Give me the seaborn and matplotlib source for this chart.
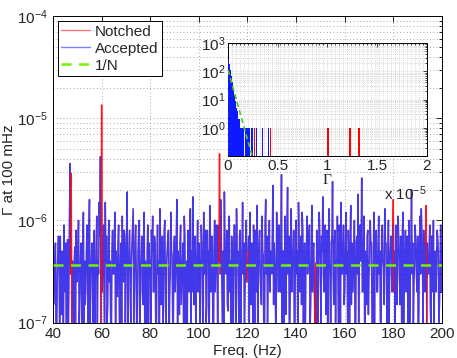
import numpy as np
import pandas as pd
import matplotlib
matplotlib.use("Agg")
import matplotlib.pyplot as plt
from matplotlib.lines import Line2D
from matplotlib.ticker import LogLocator, MultipleLocator, FuncFormatter, NullFormatter
import seaborn as sns

# ---------------- data ----------------
freq_start, freq_step = 40.0, 0.5   # Hz
# Gamma at 100 mHz, in units of 1e-7, at 40.0, 40.5, ... 200.0 Hz
gamma_1e7 = [
    8, 2.5, 6, 0.6, 5, 3, 7, 1.2, 4, 9, 2, 0.3, 6.5, 2, 36, 29, 4, 1, 5.5, 8,            # 40
    3, 10, 1.5, 6, 0.8, 12, 4, 2.2, 9, 0.5, 16, 3, 6, 1, 8, 2.5, 11, 4, 15, 42,           # 50
    135, 5, 2, 15, 7, 1.5, 10, 4, 0.7, 8, 3, 12, 5, 1.8, 9, 0.4, 6, 11, 2.5, 7,           # 60
    4, 19, 3, 8, 1, 6, 13, 2, 9, 0.5, 5, 10, 3.5, 7, 1.5, 12, 4, 0.8, 9, 6,               # 70
    3, 8, 11, 2, 6, 0.6, 9, 4, 13, 1.5, 7, 3, 10, 0.9, 5, 8, 2, 12, 4.5, 1,               # 80
    7, 3, 16, 5, 1.2, 9, 2.5, 6, 11, 0.4, 4, 8, 2, 13, 5, 17, 1.5, 7, 3, 10,              # 90
    6, 0.7, 9, 3, 12, 4, 1, 8, 5, 14, 2, 7, 0.5, 10, 3.5, 6, 9, 45, 16, 2,                # 100
    5, 19, 3, 8, 1.3, 11, 4, 7, 0.6, 9, 2.5, 13, 5, 1, 8, 3, 15, 6, 2, 10,                # 110
    3.5, 7, 12, 1.5, 5, 9, 0.8, 6, 14, 3, 8, 2, 11, 4.5, 0.5, 16, 7, 2.5, 10, 5,          # 120
    3, 22, 6, 1.5, 12, 4, 9, 2, 28, 5, 0.9, 11, 3, 21, 7, 1.2, 13, 4, 8, 0.6,             # 130
    10, 5, 15, 2, 7, 12, 0.8, 6, 3, 11, 4.5, 9, 1.5, 14, 5, 2.5, 3.8, 8, 1, 12,           # 140
    4, 7, 17, 2, 9, 5, 0.7, 13, 3, 6, 24, 1.5, 8, 4, 11, 0.5, 7, 15, 3, 9,                # 150
    2, 12, 5, 8, 1, 14, 6, 3, 10, 0.8, 7, 18, 4, 9, 26, 2, 11, 5, 1.5, 8,                 # 160
    3, 10, 6, 0.7, 12, 4, 8, 2, 11, 5, 1.2, 9, 3.5, 13, 6, 0.9, 10, 4, 7, 2,              # 170
    16, 5, 9, 1.5, 11, 4, 7, 0.6, 12, 3, 8, 5, 1, 10, 4, 20, 6, 2.5, 9, 3,                # 180
    7, 1.2, 11, 13, 4, 8, 2, 14, 6, 3, 9, 0.8, 7, 10, 4, 2, 8, 5, 1.5, 9,                 # 190
    6,                                                                                    # 200
]
# values in between, at 40.25, 40.75, ... 199.75 Hz (units of 1e-7)
gamma_mid_1e7 = [
    1.5, 4, 0.5, 3, 7, 0.8, 2, 5, 0.4, 3, 6, 1, 0.6, 9, 3, 0.7, 2, 4, 0.5, 2.5,          # 40
    6, 0.9, 4, 2, 7, 0.6, 1.5, 5, 3, 8, 0.5, 4, 2, 6, 0.7, 5, 1, 3, 7, 0.6,              # 50
    2, 9, 0.5, 4, 1, 6, 2.5, 0.8, 5, 3, 7, 0.4, 2, 6, 1.5, 4, 0.6, 3, 8, 1,              # 60
    7, 0.5, 5, 2, 4, 9, 0.7, 6, 3, 1.5, 8, 0.6, 4, 2, 6, 0.8, 3, 5, 1, 4,                # 70
    0.6, 5, 2, 7, 1, 4, 3, 0.5, 6, 2.5, 0.9, 8, 1.5, 4, 7, 0.5, 3, 5, 1, 6,              # 80
    2, 8, 0.7, 3, 6, 1.5, 4, 0.5, 7, 3, 1, 5, 9, 0.6, 2, 4, 6, 0.8, 5, 2,                # 90
    4, 2.5, 6, 0.6, 3, 8, 1.5, 4, 0.5, 7, 3, 1, 5, 2, 9, 0.7, 4, 3, 6, 1,                # 100
    0.8, 6, 4, 1.5, 7, 2, 0.5, 5, 3, 9, 0.6, 4, 2, 7, 1, 5, 3, 0.7, 6, 2.5,              # 110
    5, 1, 3, 6, 0.5, 4, 8, 2, 0.7, 6, 3, 1.5, 5, 0.6, 9, 3, 1, 6, 2, 4,                  # 120
    8, 1.5, 4, 0.6, 6, 2, 3, 7, 0.8, 5, 4, 1.2, 9, 3, 0.6, 6, 2, 5, 1, 7,                # 130
    3, 0.7, 6, 4, 1.5, 8, 2, 0.5, 5, 3, 7, 0.9, 4, 2, 6, 1, 0.6, 5, 3, 7,                # 140
    0.9, 5, 3, 6, 1.2, 8, 2, 4, 0.5, 7, 3, 6, 1, 4, 2.5, 9, 0.7, 3, 5, 1.5,              # 150
    6, 3, 0.6, 4, 7, 1.5, 2, 5, 0.8, 6, 3, 1, 9, 4, 2, 6, 0.5, 3, 7, 1.2,                # 160
    4, 6, 1, 3, 0.7, 7, 2, 5, 3, 0.6, 8, 4, 1.5, 6, 2, 4, 0.8, 5, 3, 9,                  # 170
    2, 0.7, 5, 3, 6, 1.5, 4, 8, 0.6, 5, 2, 7, 3, 1, 6, 3, 0.9, 4, 6, 2,                  # 180
    0.5, 6, 3, 8, 1, 4, 6, 0.8, 3, 5, 1.5, 7, 2, 0.6, 5, 3, 7, 1, 4, 2,                  # 190
]
notched_freqs = [47.5, 60.0, 108.5, 120.0, 148.0, 180.0, 193.5]
inv_n_level = 3.7e-7

# inset histogram (bin width 1e-7 in Gamma)
hist_binwidth = 1e-7
accepted_bins = [0, 1, 2, 3, 4, 5, 6, 7, 8, 9, 10, 11, 12, 13, 14, 15, 17, 18, 19, 20, 21, 23, 24, 28, 34, 40]
accepted_counts = [250, 180, 115, 70, 40, 22, 14, 9, 5, 4, 2, 2, 1, 1, 1, 1, 1, 1, 1, 1, 1, 1, 1, 1, 1, 1]
notched_bins = [26, 42, 100, 122, 131]
notched_counts = [1, 1, 1, 1, 1]
inv_n_hist_x = [0.0, 2.5e-6]
inv_n_hist_y = [110, 0.08]
inset_xticks = [0, 0.5, 1, 1.5, 2]   # x 1e-5

# ---------------- build frames ----------------
assert len(gamma_mid_1e7) == len(gamma_1e7) - 1
vals = np.empty(2 * len(gamma_1e7) - 1)
vals[0::2] = gamma_1e7
vals[1::2] = gamma_mid_1e7
freqs = freq_start + (freq_step / 2) * np.arange(len(vals))
gamma = vals * 1e-7
is_notched = np.isin(np.round(freqs, 2), np.round(notched_freqs, 2))

df_all = pd.DataFrame({"freq": freqs, "gamma": gamma})
seg = np.cumsum(is_notched)
df_acc = pd.DataFrame({"freq": freqs, "gamma": gamma, "seg": seg})[~is_notched]
# notched spikes: each notched bin with its two neighbours
spike_rows = []
for k, idx in enumerate(np.where(is_notched)[0]):
    for j in (idx - 1, idx, idx + 1):
        if 0 <= j < len(freqs):
            spike_rows.append((freqs[j], gamma[j], k))
df_spk = pd.DataFrame(spike_rows, columns=["freq", "gamma", "seg"])

sns.set_theme(style="white")
plt.rcParams["font.family"] = ["Liberation Sans", "DejaVu Sans"]
plt.rcParams["mathtext.fontset"] = "custom"
plt.rcParams["mathtext.rm"] = "Liberation Sans"
plt.rcParams["mathtext.it"] = "Liberation Sans"
plt.rcParams["xtick.direction"] = "in"
plt.rcParams["ytick.direction"] = "in"

fig = plt.figure(figsize=(4.57, 3.58), dpi=100)
ax = fig.add_axes([0.116, 0.099, 0.851, 0.856])

red = (1.0, 0.0, 0.0)
blue = (0.05, 0.1, 1.0)
green = (0.45, 0.95, 0.0)

sns.lineplot(data=df_all, x="freq", y="gamma", ax=ax, color=red, alpha=0.35,
             lw=1.2, estimator=None, sort=False, legend=False)
sns.lineplot(data=df_acc, x="freq", y="gamma", units="seg", ax=ax, color=blue,
             alpha=0.78, lw=1.05, estimator=None, sort=False, legend=False)
sns.lineplot(data=df_spk, x="freq", y="gamma", units="seg", ax=ax, color=red,
             alpha=0.85, lw=0.9, estimator=None, sort=False, legend=False)
ax.plot([40, 200], [inv_n_level, inv_n_level], color=green, lw=1.8,
        dashes=(4, 3), zorder=5)

ax.set_yscale("log")
ax.set_xlim(40, 200)
ax.set_ylim(1e-7, 1e-4)
ax.set_xticks(np.arange(40, 201, 20))
ax.yaxis.set_major_locator(LogLocator(base=10, numticks=10))
ax.yaxis.set_minor_locator(LogLocator(base=10, subs=np.arange(2, 10), numticks=20))
ax.yaxis.set_minor_formatter(NullFormatter())
ax.tick_params(axis="both", which="both", top=True, right=True, labelsize=11,
               color="black", width=0.6)
ax.tick_params(which="major", length=4)
ax.tick_params(which="minor", length=2)
ax.grid(True, which="major", axis="both", color="0.55", ls=(0, (1, 3)), lw=0.6)
ax.grid(True, which="minor", axis="y", color="0.55", ls=(0, (1, 3)), lw=0.6)
for s in ax.spines.values():
    s.set_color("black"); s.set_linewidth(0.7)
ax.set_xlabel("Freq. (Hz)", fontsize=11, labelpad=2)
ax.set_ylabel("Γ at 100 mHz", fontsize=11, labelpad=1)

handles = [
    Line2D([], [], color=red, alpha=0.55, lw=1.0),
    Line2D([], [], color=blue, alpha=0.55, lw=1.0),
    Line2D([], [], color=green, lw=1.8, dashes=(4, 3)),
]
leg = ax.legend(handles, ["Notched", "Accepted", "1/N"], loc="upper left",
                fontsize=11, frameon=True, fancybox=False, edgecolor="black",
                framealpha=1, handlelength=1.9, borderaxespad=0.3, borderpad=0.25,
                labelspacing=0.2, handletextpad=0.3)
leg.get_frame().set_linewidth(0.7)

# ---------------- inset ----------------
ins = fig.add_axes([0.499, 0.564, 0.435, 0.316])
ins.set_facecolor("white")
acc_x = np.array(accepted_bins) * hist_binwidth
not_x = np.array(notched_bins) * hist_binwidth
ins.bar(acc_x, accepted_counts, width=hist_binwidth * 1.05, align="edge",
        color=(0.05, 0.1, 1.0), edgecolor="none", zorder=3)
ins.bar(not_x, notched_counts, width=hist_binwidth * 1.6, align="edge",
        color=(1.0, 0.0, 0.0), edgecolor="none", zorder=3)
sns.lineplot(x=inv_n_hist_x, y=inv_n_hist_y, ax=ins, color=(0.3, 0.8, 0.1),
             lw=1.2, linestyle=(0, (3, 2)), zorder=4)
ins.set_yscale("log")
ins.set_xlim(0, 2e-5)
ins.set_ylim(0.1, 1e3)
ins.set_yticks([1, 10, 100, 1000])
ins.yaxis.set_minor_locator(LogLocator(base=10, subs=np.arange(2, 10), numticks=20))
ins.yaxis.set_minor_formatter(NullFormatter())
ins.set_xticks([v * 1e-5 for v in inset_xticks])
ins.xaxis.set_major_formatter(FuncFormatter(lambda v, p: f"{v / 1e-5:g}"))
ins.xaxis.set_minor_locator(MultipleLocator(4e-7))
ins.tick_params(axis="both", which="both", top=True, right=True, labelsize=11,
                width=0.6, pad=2)
ins.tick_params(which="major", length=3)
ins.tick_params(which="minor", length=1.5)
ins.grid(True, which="both", axis="both", color="0.72", ls=(0, (1, 2)), lw=0.5)
for s in ins.spines.values():
    s.set_color("black"); s.set_linewidth(0.7)
ins.set_xlabel("Γ", fontsize=11, family=["Liberation Serif", "DejaVu Serif"], labelpad=1)
ins.set_ylabel("")
ins.text(1.0, -0.25, r"x $10^{-5}$", transform=ins.transAxes, ha="right",
         va="top", fontsize=11)

fig.savefig("out.png", dpi=100)
